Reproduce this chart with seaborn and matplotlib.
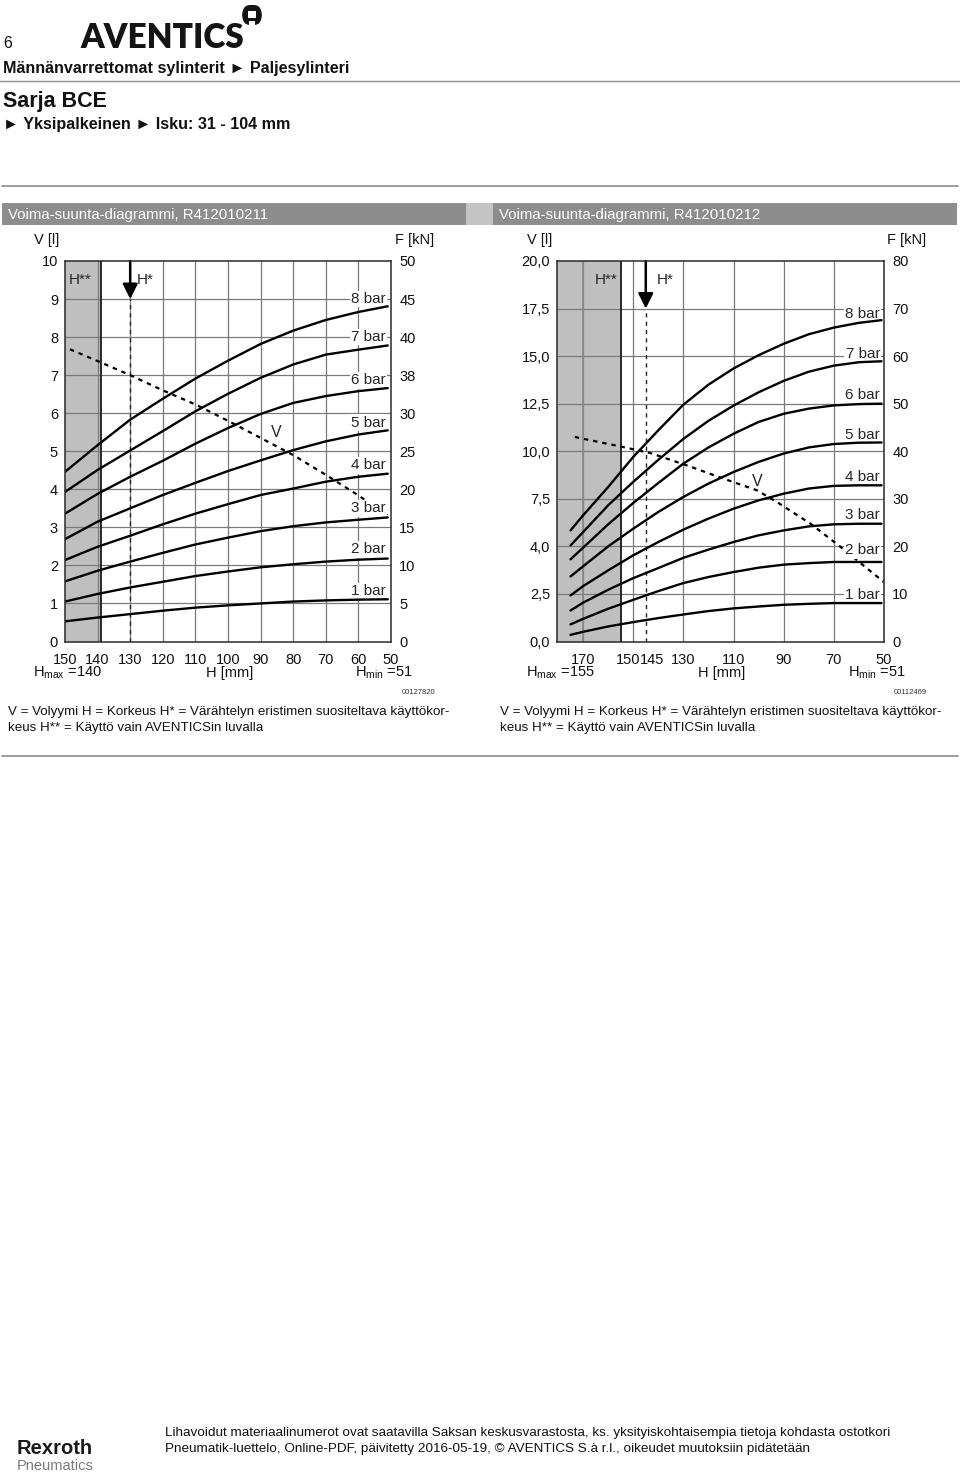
import numpy as np
import pandas as pd
import matplotlib
matplotlib.use("Agg")
import matplotlib.pyplot as plt
import matplotlib.transforms as mtransforms
from matplotlib.patches import Rectangle, FancyBboxPatch
import seaborn as sns

# ---------------- data ----------------
PRESSURES = ["1 bar", "2 bar", "3 bar", "4 bar", "5 bar", "6 bar", "7 bar", "8 bar"]

# Left chart  R412010211  (V [l] vs H [mm])
H_LEFT = [150, 140, 130, 120, 110, 100, 90, 80, 70, 60, 51]
V_LEFT_1 = [0.53, 0.63, 0.72, 0.81, 0.89, 0.95, 1.00, 1.05, 1.08, 1.10, 1.11]
V_LEFT_2 = [1.05, 1.25, 1.42, 1.57, 1.72, 1.84, 1.95, 2.03, 2.10, 2.15, 2.18]
V_LEFT_3 = [1.58, 1.86, 2.10, 2.33, 2.55, 2.73, 2.90, 3.03, 3.13, 3.20, 3.26]
V_LEFT_4 = [2.14, 2.49, 2.78, 3.08, 3.36, 3.61, 3.85, 4.02, 4.20, 4.33, 4.41]
V_LEFT_5 = [2.69, 3.15, 3.50, 3.85, 4.17, 4.48, 4.76, 5.03, 5.26, 5.44, 5.55]
V_LEFT_6 = [3.36, 3.88, 4.33, 4.75, 5.20, 5.61, 5.98, 6.27, 6.45, 6.58, 6.66]
V_LEFT_7 = [3.93, 4.51, 5.02, 5.53, 6.05, 6.51, 6.93, 7.28, 7.54, 7.67, 7.78]
V_LEFT_8 = [4.46, 5.16, 5.83, 6.38, 6.91, 7.38, 7.82, 8.17, 8.45, 8.66, 8.81]
VOL_LEFT_H = [148.5, 140, 130, 120, 110, 100, 90, 80, 70, 60, 51]
VOL_LEFT_V = [7.68, 7.37, 7.00, 6.60, 6.23, 5.80, 5.35, 4.90, 4.38, 3.84, 3.30]
LABEL_LEFT_V = [1.33, 2.42, 3.50, 4.63, 5.75, 6.86, 8.00, 9.00]

# Right chart  R412010212
H_RIGHT = [175, 170, 160, 150, 140, 130, 120, 110, 100, 90, 80, 70, 60, 51]
V_RIGHT_1 = [0.35, 0.51, 0.79, 1.02, 1.23, 1.42, 1.60, 1.74, 1.84, 1.93, 1.98, 2.02, 2.02, 2.02]
V_RIGHT_2 = [0.90, 1.19, 1.72, 2.19, 2.65, 3.07, 3.39, 3.65, 3.88, 4.04, 4.12, 4.18, 4.18, 4.18]
V_RIGHT_3 = [1.63, 2.04, 2.72, 3.33, 3.86, 4.40, 4.83, 5.23, 5.58, 5.84, 6.05, 6.16, 6.19, 6.19]
V_RIGHT_4 = [2.42, 2.91, 3.74, 4.53, 5.23, 5.88, 6.46, 6.98, 7.42, 7.77, 8.04, 8.18, 8.21, 8.21]
V_RIGHT_5 = [3.42, 3.95, 5.00, 5.93, 6.81, 7.60, 8.30, 8.91, 9.44, 9.88, 10.20, 10.38, 10.45, 10.46]
V_RIGHT_6 = [4.32, 4.93, 6.16, 7.28, 8.33, 9.35, 10.20, 10.92, 11.54, 11.97, 12.24, 12.41, 12.48, 12.50]
V_RIGHT_7 = [5.05, 5.75, 7.16, 8.39, 9.55, 10.65, 11.60, 12.40, 13.10, 13.70, 14.18, 14.50, 14.68, 14.73]
V_RIGHT_8 = [5.84, 6.63, 8.12, 9.70, 11.10, 12.45, 13.50, 14.35, 15.05, 15.65, 16.15, 16.50, 16.75, 16.89]
VOL_RIGHT_H = [173.3, 154, 143.3, 128.7, 114, 100.7, 92.7, 79.3, 67.3, 50]
VOL_RIGHT_V = [10.75, 10.22, 9.91, 9.26, 8.56, 7.95, 7.33, 6.19, 4.97, 3.12]
LABEL_RIGHT_V = [2.47, 4.79, 6.63, 8.65, 10.83, 12.94, 15.10, 17.24]

# axis ticks / labels
L_XTICKS = [150, 140, 130, 120, 110, 100, 90, 80, 70, 60, 50]
L_YTICKS = list(range(0, 11))
L_FTICKS = [0, 5, 10, 15, 20, 25, 30, 35, 40, 45, 50]
L_FLABELS = ["0", "5", "10", "15", "20", "25", "30", "38", "40", "45", "50"]
R_XTICKS = [170, 150, 145, 130, 110, 90, 70, 50]
R_XGRID = [170, 150, 130, 110, 90, 70]
R_YTICKS = [0, 2.5, 5, 7.5, 10, 12.5, 15, 17.5, 20]
R_YLABELS = ["0,0", "2,5", "4,0", "7,5", "10,0", "12,5", "15,0", "17,5", "20,0"]
R_FTICKS = [0, 10, 20, 30, 40, 50, 60, 70, 80]

H_STAR_L, H_MAX_L = 130, 139
H_STAR_R, H_MAX_R = 145, 155

# ---------------- style ----------------
sns.set_theme(style="white")
FAM = ["Liberation Sans", "DejaVu Sans"]
plt.rcParams["font.family"] = FAM
plt.rcParams["mathtext.fontset"] = "custom"
plt.rcParams["mathtext.rm"] = "Liberation Sans"
plt.rcParams["mathtext.it"] = "Liberation Sans"

W, Hh = 960, 1473
fig = plt.figure(figsize=(W / 100, Hh / 100), dpi=100)
fig.patch.set_facecolor("white")


def fx(x):
    return x / W


def fy(y):
    return 1 - y / Hh


def ftext(x, y, s, **kw):
    kw.setdefault("color", "#111111")
    fig.text(fx(x), fy(y), s, **kw)


def frect(x0, y0, x1, y1, color):
    fig.add_artist(Rectangle((fx(x0), fy(y1)), fx(x1 - x0), (y1 - y0) / Hh,
                             transform=fig.transFigure, color=color, lw=0))


def fline(x0, x1, y, color, lw):
    fig.add_artist(plt.Line2D([fx(x0), fx(x1)], [fy(y), fy(y)], transform=fig.transFigure,
                              color=color, lw=lw))


GRID_C = "#7a7a7a"
SHADE_C = "#bfbfbf"
TICK_FS = 10.5


def make_df(H, series):
    rows = []
    for p, vals in zip(PRESSURES, series):
        for h, v in zip(H, vals):
            rows.append({"H": h, "V": v, "p": p})
    return pd.DataFrame(rows)


def draw_chart(ax, H, series, xlim, ylim, xticks, xgrid, yticks, ylabels, fmax, fticks, flabels,
               hstar, hmax, volH, volV, vlabel_pos, lab_v, arrow_to, shade_extra_grid):
    ax.set_xlim(*xlim)
    ax.set_ylim(*ylim)
    # shaded region H**
    ax.axvspan(xlim[0], hmax, color=SHADE_C, lw=0, zorder=0.5)
    for g in xgrid:
        ax.axvline(g, color=GRID_C, lw=0.9, zorder=1)
    for g in yticks[1:-1]:
        ax.axhline(g, color=GRID_C, lw=0.9, zorder=1)
    for g in shade_extra_grid:
        ax.axvline(g, color="#8a8a8a", lw=1.2, zorder=1.1)
    ax.axvline(hmax, color="#1a1a1a", lw=1.3, zorder=1.2)

    df = make_df(H, series)
    sns.lineplot(data=df, x="H", y="V", hue="p", palette=["black"] * len(PRESSURES),
                 legend=False, ax=ax, lw=1.7, zorder=3, sort=False)
    # volume curve (below the label boxes)
    sns.lineplot(x=volH, y=volV, ax=ax, color="black", lw=1.6, ls=(0, (2, 2.2)), zorder=2.3, sort=False)
    ax.text(vlabel_pos[0], vlabel_pos[1], "V", fontsize=TICK_FS + 1, ha="center", va="center", zorder=4)

    # pressure labels (boxes hide the grid, curves stay on top)
    for p, yv in zip(PRESSURES, lab_v):
        ax.text(51.5, yv, p, fontsize=TICK_FS + 0.5, ha="right", va="center", zorder=2.5,
                bbox=dict(boxstyle="square,pad=0.08", fc="white", ec="none"))

    # H* arrow and dashed line
    ax.plot([hstar, hstar], [ylim[0], arrow_to], ls=(0, (3, 3)), lw=1.0, color="#222222", zorder=2)
    ax.annotate("", xy=(hstar, arrow_to), xytext=(hstar, ylim[1]),
                arrowprops=dict(arrowstyle="-|>,head_length=0.9,head_width=0.45", lw=1.8,
                                color="black", shrinkA=0, shrinkB=0, mutation_scale=10), zorder=6)

    ax.set_xlabel("")
    ax.set_ylabel("")
    ax.set_xticks(xticks)
    ax.set_xticklabels([str(t) for t in xticks])
    ax.set_yticks(yticks)
    ax.set_yticklabels(ylabels)
    ax.tick_params(axis="both", length=0, labelsize=TICK_FS, colors="#111111")
    ax.tick_params(axis="x", pad=8)
    ax.tick_params(axis="y", pad=5)
    for s in ax.spines.values():
        s.set_color("#2a2a2a")
        s.set_linewidth(1.1)
        s.set_zorder(7)

    ax2 = ax.twinx()
    ax2.set_ylim(0, fmax)
    ax2.set_yticks(fticks)
    ax2.set_yticklabels(flabels)
    ax2.tick_params(axis="y", length=0, labelsize=TICK_FS, pad=6, colors="#111111")
    for s in ax2.spines.values():
        s.set_visible(False)
    ax2.grid(False)
    ax.grid(False)
    return ax2


# ---------------- page header ----------------
ftext(3, 43, "6", fontsize=11.5, va="center", ha="left")
ftext(80, 38, "AVENTICS", fontsize=24, fontweight="heavy", va="center", ha="left",
      family=["Lato", "DejaVu Sans"], color="#141414")
# small logo mark
fig.add_artist(FancyBboxPatch((fx(242), fy(25)), fx(20), 20 / Hh, boxstyle="round,pad=0,rounding_size=0.008",
                              transform=fig.transFigure, fc="#141414", ec="none"))
fig.add_artist(Rectangle((fx(248), fy(18)), fx(8), 7 / Hh, transform=fig.transFigure, fc="white", lw=0))
fig.add_artist(Rectangle((fx(249), fy(25)), fx(6), 4 / Hh, transform=fig.transFigure, fc="white", lw=0))

ftext(3, 69, "Männänvarrettomat sylinterit \u25ba Paljesylinteri", fontsize=11.6, fontweight="bold",
      va="center", ha="left")
fline(0, 960, 80.5, "#8c8c8c", 1.0)
ftext(3, 102, "Sarja BCE", fontsize=15.5, fontweight="bold", va="center", ha="left")
ftext(3, 125, "\u25ba Yksipalkeinen \u25ba Isku: 31 - 104 mm", fontsize=11.6, fontweight="bold",
      va="center", ha="left")
fline(2, 958, 185.5, "#8c8c8c", 1.2)

# section header bars
frect(2, 203, 466, 225, "#8d8d8d")
frect(466, 203, 493, 225, "#c4c4c4")
frect(493, 203, 957, 225, "#8d8d8d")
ftext(8, 214.5, "Voima-suunta-diagrammi, R412010211", fontsize=10.8, color="white", va="center", ha="left")
ftext(499, 214.5, "Voima-suunta-diagrammi, R412010212", fontsize=10.8, color="white", va="center", ha="left")

# ---------------- left chart ----------------
axL = fig.add_axes([fx(65), fy(641.5), fx(326), 380.5 / Hh])
draw_chart(axL, H_LEFT,
           [V_LEFT_1, V_LEFT_2, V_LEFT_3, V_LEFT_4, V_LEFT_5, V_LEFT_6, V_LEFT_7, V_LEFT_8],
           (150, 50), (0, 10), L_XTICKS, L_XTICKS[1:-1], L_YTICKS, [str(t) for t in L_YTICKS],
           50, L_FTICKS, L_FLABELS, H_STAR_L, H_MAX_L, VOL_LEFT_H, VOL_LEFT_V, (85.2, 5.5),
           LABEL_LEFT_V, 9.0, [])
axL.text(145.3, 9.5, "H**", fontsize=TICK_FS + 0.5, ha="center", va="center", zorder=5)
axL.text(128, 9.5, "H*", fontsize=TICK_FS + 0.5, ha="left", va="center", zorder=5)

ftext(47, 240, "V [l]", fontsize=TICK_FS, ha="center", va="center")
ftext(415, 240, "F [kN]", fontsize=TICK_FS, ha="center", va="center")
ftext(33, 673, r"H$_{\rm max}$ =140", fontsize=TICK_FS, ha="left", va="center")
ftext(230, 673, "H [mm]", fontsize=TICK_FS, ha="center", va="center")
ftext(413, 673, r"H$_{\rm min}$ =51", fontsize=TICK_FS, ha="right", va="center")
ftext(435, 693, "00127820", fontsize=5.5, ha="right", va="center", color="#333333")
ftext(8, 712, "V = Volyymi H = Korkeus H* = Värähtelyn eristimen suositeltava käyttökor-",
      fontsize=9.6, ha="left", va="center")
ftext(8, 728, "keus H** = Käyttö vain AVENTICSin luvalla", fontsize=9.6, ha="left", va="center")

# ---------------- right chart ----------------
axR = fig.add_axes([fx(557), fy(641.5), fx(327), 380.5 / Hh])
draw_chart(axR, H_RIGHT,
           [V_RIGHT_1, V_RIGHT_2, V_RIGHT_3, V_RIGHT_4, V_RIGHT_5, V_RIGHT_6, V_RIGHT_7, V_RIGHT_8],
           (180.4, 50), (0, 20), R_XTICKS, R_XGRID, R_YTICKS, R_YLABELS,
           80, R_FTICKS, [str(t) for t in R_FTICKS], H_STAR_R, H_MAX_R, VOL_RIGHT_H, VOL_RIGHT_V,
           (100.7, 8.4), LABEL_RIGHT_V, 17.5, [170])
axR.text(160.7, 19.0, "H**", fontsize=TICK_FS + 0.5, ha="center", va="center", zorder=5)
axR.text(140.5, 19.0, "H*", fontsize=TICK_FS + 0.5, ha="left", va="center", zorder=5)
# spread the crowded 150 / 145 labels apart a little
for lab in axR.get_xticklabels():
    if lab.get_text() == "150":
        lab.set_transform(lab.get_transform() + mtransforms.ScaledTranslation(-5 / 100, 0, fig.dpi_scale_trans))
    if lab.get_text() == "145":
        lab.set_transform(lab.get_transform() + mtransforms.ScaledTranslation(6 / 100, 0, fig.dpi_scale_trans))

ftext(540, 240, "V [l]", fontsize=TICK_FS, ha="center", va="center")
ftext(907, 240, "F [kN]", fontsize=TICK_FS, ha="center", va="center")
ftext(526, 673, r"H$_{\rm max}$ =155", fontsize=TICK_FS, ha="left", va="center")
ftext(722, 673, "H [mm]", fontsize=TICK_FS, ha="center", va="center")
ftext(906, 673, r"H$_{\rm min}$ =51", fontsize=TICK_FS, ha="right", va="center")
ftext(927, 693, "00112469", fontsize=5.5, ha="right", va="center", color="#333333")
ftext(500, 712, "V = Volyymi H = Korkeus H* = Värähtelyn eristimen suositeltava käyttökor-",
      fontsize=9.6, ha="left", va="center")
ftext(500, 728, "keus H** = Käyttö vain AVENTICSin luvalla", fontsize=9.6, ha="left", va="center")

fline(2, 958, 755.5, "#8c8c8c", 1.2)

# ---------------- footer ----------------
NARROW = ["Liberation Sans Narrow", "Liberation Sans", "DejaVu Sans"]
ftext(17, 1449, "Rexroth", fontsize=14.5, fontweight="bold", ha="left", va="center", color="#1a1a1a")
ftext(17, 1466, "Pneumatics", fontsize=10.5, ha="left", va="center", color="#7a7a7a")
ftext(165, 1433,
      "Lihavoidut materiaalinumerot ovat saatavilla Saksan keskusvarastosta, ks. yksityiskohtaisempia tietoja kohdasta ostotkori",
      fontsize=9.7, ha="left", va="center", family=NARROW)
ftext(165, 1449,
      "Pneumatik-luettelo, Online-PDF, päivitetty 2016-05-19, © AVENTICS S.à r.l., oikeudet muutoksiin pidätetään",
      fontsize=9.7, ha="left", va="center", family=NARROW)

fig.savefig("out.png", dpi=100, facecolor="white")
